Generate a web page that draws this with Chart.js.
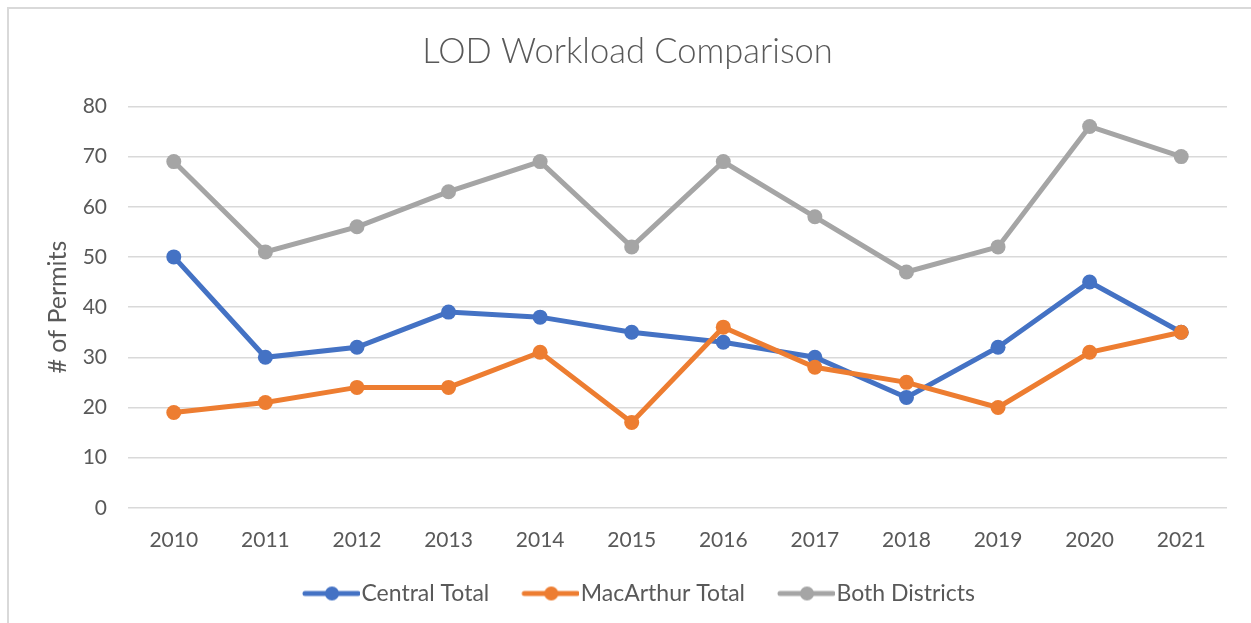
<!DOCTYPE html>
<html>
<head>
<meta charset="utf-8">
<title>LOD Workload Comparison</title>
<script src="https://cdn.jsdelivr.net/npm/chart.js@4/dist/chart.umd.min.js"></script>
<style>
    html, body { margin: 0; padding: 0; background: #fff; }
    #wrap { position: relative; width: 1251px; height: 623px; }
    #frame { position: absolute; left: 7px; top: 7px; right: 0; bottom: 0;
             border-left: 2px solid #d9d9d9; border-top: 2px solid #d9d9d9; pointer-events: none; }
</style>
</head>
<body>
<div id="wrap">
    <canvas id="workloadChart" width="1251" height="623"></canvas>
    <div id="frame"></div>
</div>
<script>
const years = ['2010', '2011', '2012', '2013', '2014', '2015', '2016', '2017', '2018', '2019', '2020', '2021'];
const centralTotal = [50, 30, 32, 39, 38, 35, 33, 30, 22, 32, 45, 35];
const macArthurTotal = [19, 21, 24, 24, 31, 17, 36, 28, 25, 20, 31, 35];
const bothDistricts = [69, 51, 56, 63, 69, 52, 69, 58, 47, 52, 76, 70];
const seriesNames = ['Central Total', 'MacArthur Total', 'Both Districts'];
const seriesColors = ['#4472c4', '#ed7d31', '#a5a5a5'];

const textColor = '#595959';
const fontFamily = 'Lato, Carlito, Calibri, sans-serif';

// little line+dot picture for the legend, line on the right part of the canvas
function legendMarker(color) {
    const c = document.createElement('canvas');
    c.width = 90;
    c.height = 16;
    const g = c.getContext('2d');
    g.strokeStyle = color;
    g.lineWidth = 5;
    g.lineCap = 'round';
    g.beginPath();
    g.moveTo(35, 8);
    g.lineTo(88, 8);
    g.stroke();
    g.fillStyle = color;
    g.beginPath();
    g.arc(62, 8, 7, 0, Math.PI * 2);
    g.fill();
    return c;
}

function makeDataset(label, data, color, order) {
    return {
        label: label,
        data: data,
        borderColor: color,
        backgroundColor: color,
        borderWidth: 5,
        pointRadius: 7.5,
        pointHoverRadius: 7.5,
        pointBorderWidth: 0,
        tension: 0,
        order: order
    };
}

const ctx = document.getElementById('workloadChart').getContext('2d');

new Chart(ctx, {
    type: 'line',
    data: {
        labels: years,
        datasets: [
            makeDataset(seriesNames[0], centralTotal, seriesColors[0], 3),
            makeDataset(seriesNames[1], macArthurTotal, seriesColors[1], 2),
            makeDataset(seriesNames[2], bothDistricts, seriesColors[2], 1)
        ]
    },
    options: {
        responsive: false,
        animation: false,
        layout: {
            padding: { left: 28, right: 24, top: 0, bottom: 8 }
        },
        plugins: {
            title: {
                display: true,
                text: 'LOD Workload Comparison',
                color: textColor,
                font: { family: fontFamily, size: 34.5, weight: '300' },
                padding: { top: 31, bottom: 34 }
            },
            legend: {
                position: 'bottom',
                labels: {
                    usePointStyle: true,
                    pointStyleWidth: 70,
                    padding: 10,
                    color: textColor,
                    font: { family: fontFamily, size: 23 },
                    generateLabels: function(chart) {
                        return chart.data.datasets.map(function(ds, i) {
                            return {
                                text: ds.label,
                                fontColor: textColor,
                                pointStyle: legendMarker(ds.borderColor),
                                fillStyle: ds.borderColor,
                                strokeStyle: ds.borderColor,
                                lineWidth: 0,
                                hidden: false,
                                datasetIndex: i
                            };
                        });
                    }
                }
            },
            tooltip: { enabled: false }
        },
        scales: {
            x: {
                offset: true,
                grid: { display: false, drawTicks: false },
                border: { display: false },
                ticks: {
                    color: textColor,
                    font: { family: fontFamily, size: 21 },
                    padding: 19.5,
                    maxRotation: 0
                }
            },
            y: {
                min: 0,
                max: 80,
                ticks: {
                    stepSize: 10,
                    color: textColor,
                    font: { family: fontFamily, size: 21 },
                    padding: 21
                },
                grid: { color: '#d9d9d9', lineWidth: 1.5, drawTicks: false },
                border: { display: false },
                title: {
                    display: true,
                    text: '# of Permits',
                    color: textColor,
                    font: { family: fontFamily, size: 25 },
                    padding: { top: 15, bottom: 0 }
                },
                afterFit: function(scale) {
                    scale.width = 100;
                }
            }
        }
    }
});
</script>
</body>
</html>
